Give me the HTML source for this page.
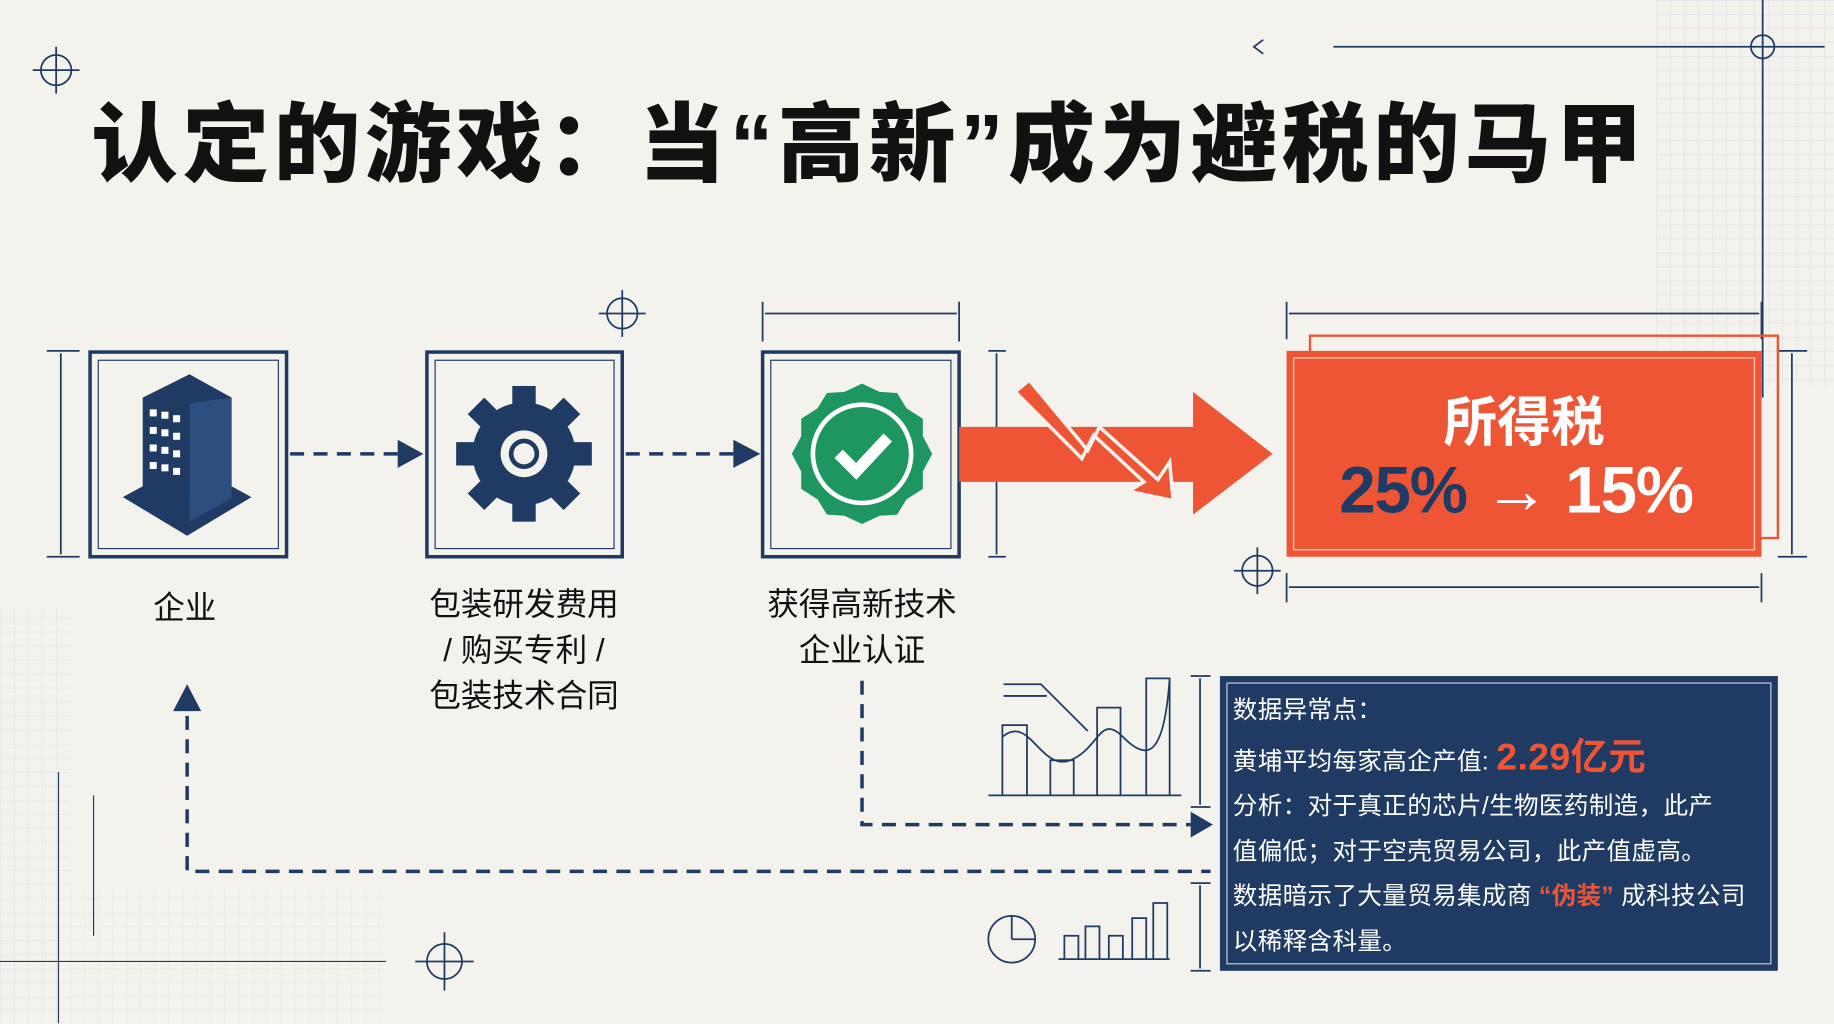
<!DOCTYPE html>
<html><head><meta charset="utf-8"><style>
html,body{margin:0;padding:0;width:1834px;height:1024px;overflow:hidden;background:#f3f2ec}
#w{position:absolute;left:0;top:0;width:1568px;height:875px;transform:scale(1.16964);transform-origin:0 0;font-family:"Liberation Sans","Noto Sans CJK SC",sans-serif}
.t{position:absolute;white-space:nowrap}
</style></head><body><div id="w">
<svg width="1568" height="875" style="position:absolute;left:0;top:0">
<defs><pattern id="g" width="12" height="12" patternUnits="userSpaceOnUse"><path d="M12 0H0V12" fill="none" stroke="#d8dbe0" stroke-width="1"/></pattern></defs>
<rect x="1415" y="0" width="153" height="330" fill="url(#g)" opacity="0.8"/>
<rect x="0" y="520" width="60" height="355" fill="url(#g)" opacity="0.6"/>
<rect x="60" y="760" width="270" height="115" fill="url(#g)" opacity="0.5"/>
<g stroke="#1f3a63" stroke-width="1.5" fill="none">
<circle cx="48" cy="60" r="13"/><path d="M28 60H68M48 40V80"/>
<circle cx="532" cy="268" r="13"/><path d="M512 268H552M532 248V288"/>
<circle cx="1075" cy="488" r="13"/><path d="M1055 488H1095M1075 468V508"/>
<circle cx="380" cy="822" r="15"/><path d="M355 822H405M380 797V847"/>
<path d="M1140 40H1560M1507 0V340M1080 34L1072 40L1080 46"/><circle cx="1507" cy="40" r="10"/>
<path d="M40 300H68M40 476H68M52 302V474M845 300H860M845 476H860M852 302V474"/>
<path d="M652 258V292M820 258V292M654 268H818M1100 258V290M1506 258V290M1102 268H1504"/>
<path d="M1100 490V515M1506 490V515M1102 502H1504M1520 300H1545M1520 476H1545M1532 302V474"/>
<path d="M1018 578H1035M1018 690H1035M1026 580V688M1018 755H1035M1018 830H1035M1026 757V828"/>
<path d="M0 822H330M50 660V875M80 680V800" stroke-width="1"/>
<path d="M845 680H1010M858 585H890L930 625M858 595H895M857 620V680H878V620zM898 650V680H918V650zM938 605V680H958V605zM980 580V680H1000V580zM857 630C880 610 890 660 915 650S940 610 960 630S995 650 1000 580"/>
<path d="M905 820H1000M910 800V820H922V800zM928 792V820H940V792zM948 800V820H960V800zM968 785V820H980V785zM986 772V820H998V772z"/>
<circle cx="865" cy="803" r="20"/><path d="M865 803V783M865 803H885"/>
</g>
<g stroke="#1f3a63" stroke-width="3" fill="none">
<rect x="77" y="301" width="168" height="175"/><rect x="84" y="308" width="154" height="161" stroke-width="1"/>
<rect x="365" y="301" width="167" height="175"/><rect x="372" y="308" width="153" height="161" stroke-width="1"/>
<rect x="652" y="301" width="168" height="175"/><rect x="659" y="308" width="154" height="161" stroke-width="1"/>
<path d="M248 388H345M535 388H632M737 582V705H1018M160 612V745H1035" stroke-dasharray="12 8"/>
</g>
<path d="M340 376L362 388L340 400zM627 376L650 388L627 400zM1018 694L1037 705L1018 716zM148 608L160 585L172 608z" fill="#1f3a63"/>
<path d="M105 425L160 458L215 425L160 395z" fill="#1f3a63"/>
<path d="M122 340L162 320L198 340V428L162 448L122 428z" fill="#1f3a63"/>
<path d="M162 345V446L198 426V340z" fill="#2d4f80"/>
<g fill="#fff"><rect x="128" y="350" width="6" height="6"/><rect x="138" y="352" width="6" height="6"/><rect x="148" y="355" width="6" height="6"/><rect x="128" y="365" width="6" height="6"/><rect x="138" y="367" width="6" height="6"/><rect x="148" y="370" width="6" height="6"/><rect x="128" y="380" width="6" height="6"/><rect x="138" y="382" width="6" height="6"/><rect x="148" y="385" width="6" height="6"/><rect x="128" y="395" width="6" height="6"/><rect x="138" y="397" width="6" height="6"/><rect x="148" y="400" width="6" height="6"/></g>
<g transform="translate(448,388)" fill="#1f3a63">
<circle r="44"/>
<g><rect x="-10" y="-58" width="20" height="20"/><rect x="-10" y="38" width="20" height="20"/><rect x="38" y="-10" width="20" height="20"/><rect x="-58" y="-10" width="20" height="20"/>
<g transform="rotate(45)"><rect x="-10" y="-58" width="20" height="20"/><rect x="-10" y="38" width="20" height="20"/><rect x="38" y="-10" width="20" height="20"/><rect x="-58" y="-10" width="20" height="20"/></g></g>
<circle r="20" fill="#f3f2ec"/><circle r="13" fill="#1f3a63"/><circle r="9" fill="#f3f2ec"/>
</g>
<g transform="translate(737,388)">
<polygon fill="#1e9660" points="0,-60 15,-53 30,-52 38,-39 52,-30 52,-15 60,0 52,15 52,30 38,39 30,52 15,53 0,60 -15,53 -30,52 -38,39 -52,30 -52,15 -60,0 -52,-15 -52,-30 -38,-39 -30,-52 -15,-53"/>
<circle r="42" fill="none" stroke="#fff" stroke-width="4"/>
<path d="M-20 0L-5 15L22 -14" fill="none" stroke="#fff" stroke-width="10"/>
</g>
<path d="M820 365H1020V335L1088 388L1020 440V412H820z" fill="#ee5535"/>
<path d="M868 335L880 325L930 385L940 365L990 410L1000 395L1003 428L965 420L978 412L935 372L925 392z" fill="#ee5535" stroke="#f3f2ec" stroke-width="3"/>
<rect x="1120" y="287" width="400" height="173" fill="none" stroke="#ee5535" stroke-width="2"/>
<rect x="1100" y="300" width="406" height="176" fill="#ee5535"/>
<rect x="1106" y="306" width="394" height="164" fill="none" stroke="#f7c3b3" stroke-width="1.2"/>
<rect x="1043" y="578" width="477" height="252" fill="#1f3a63"/>
<rect x="1049" y="584" width="465" height="240" fill="none" stroke="#a9b8cd" stroke-width="1.2"/>
</svg>
<div class="t" style="left:78px;top:64px;font-size:74px;font-weight:900;color:#111;letter-spacing:4px">认定的游戏：当“高新”成为避税的马甲</div>
<div class="t" style="left:131px;top:498px;font-size:27px;color:#111">企业</div>
<div class="t" style="left:358px;top:498px;width:180px;text-align:center;font-size:27px;line-height:39px;color:#111">包装研发费用<br>/ 购买专利 /<br>包装技术合同</div>
<div class="t" style="left:647px;top:498px;width:180px;text-align:center;font-size:27px;line-height:39px;color:#111">获得高新技术<br>企业认证</div>
<div class="t" style="left:1100px;top:325px;width:406px;text-align:center;font-size:46px;font-weight:bold;color:#fff">所得税</div>
<div class="t" style="left:1145px;top:386px;font-size:56px;font-weight:bold;color:#fff;letter-spacing:-1px"><span style="color:#1f3a63">25%</span> → 15%</div>
<div class="t" style="left:1054px;top:589px;font-size:21px;line-height:38.5px;color:#fff;letter-spacing:0.3px">数据异常点：<br>黄埔平均每家高企产值: <span style="color:#ee5535;font-size:32px;font-weight:bold">2.29亿元</span><br>分析：对于真正的芯片/生物医药制造，此产<br>值偏低；对于空壳贸易公司，此产值虚高。<br>数据暗示了大量贸易集成商 <b style="color:#ee5535">“伪装”</b> 成科技公司<br>以稀释含科量。</div>
</div></body></html>
